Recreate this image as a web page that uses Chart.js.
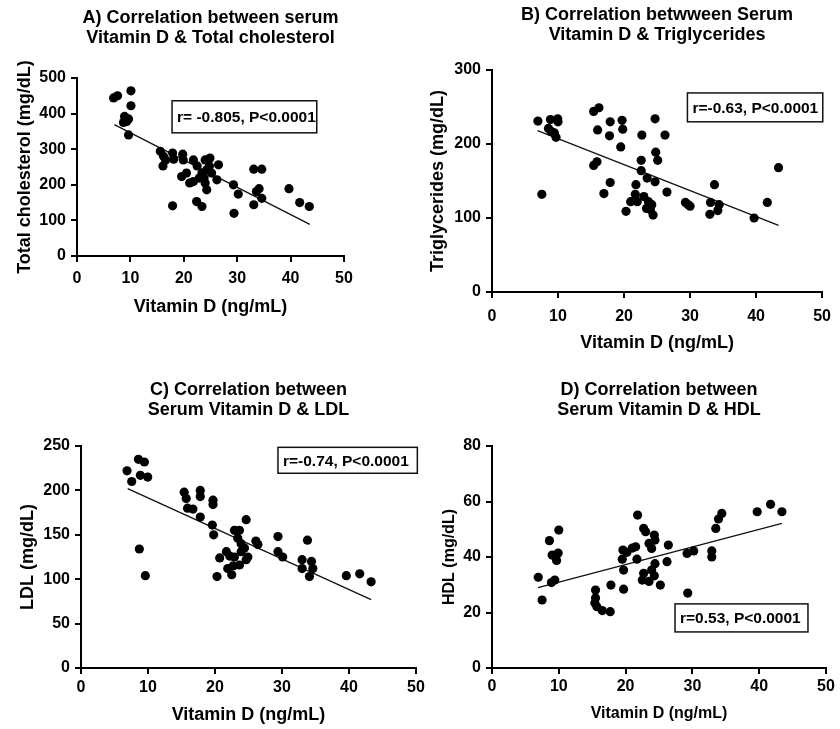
<!DOCTYPE html>
<html>
<head>
<meta charset="utf-8">
<script src="https://cdn.jsdelivr.net/npm/chart.js@4.4.1/dist/chart.umd.min.js"></script>
<style>
  body { margin: 0; background: #fff; }
  #wrap { position: relative; width: 840px; height: 729px; overflow: hidden; }
  canvas { position: absolute; }
</style>
</head>
<body>
<div id="wrap">
  <canvas id="cA" width="420" height="325" style="left:0px;top:0px;"></canvas>
  <canvas id="cB" width="420" height="365" style="left:420px;top:0px;"></canvas>
  <canvas id="cC" width="440" height="364" style="left:0px;top:365px;"></canvas>
  <canvas id="cD" width="420" height="364" style="left:420px;top:365px;"></canvas>
</div>
<script>
// A) total cholesterol
const cholVitD = [6.85, 7.6, 10.1, 10.1, 8.9, 9.3, 8.7, 9.65, 9.65,
    15.6, 16.2, 16.1, 16.6, 17.9, 18.1, 19.8, 19.9, 19.6, 20.5,
    21.8, 21.1, 21.8, 22.5, 23.4, 22.9, 23.8, 24, 24.9, 24.8,
    24.3, 25.2, 24, 24.3, 22.4, 23.4, 26.5, 26.2, 17.9, 29.3,
    30.2, 29.4, 33.1, 34.6, 34.1, 33.6, 34.6, 33.1, 39.7, 41.7, 43.5];
const cholValues = [444, 450, 464, 422, 392, 378, 375, 385, 340,
    294, 280, 253, 270, 289, 272, 286, 270, 223, 233,
    270, 205, 209, 253, 233, 219, 219, 270, 275, 253,
    242, 233, 205, 186, 153, 139, 256, 214, 141, 200,
    174, 120, 244, 244, 189, 181, 162, 144, 189, 150, 139];
const cholFitX = [7.0, 43.6];
const cholFitY = [369, 89];

// B) triglycerides
const tgVitD = [6.95, 7.55, 8.85, 9.95, 8.55, 8.95, 9.45, 9.7, 10.0,
    15.4, 16.2, 16.0, 15.4, 15.9, 17.9, 17.8, 19.7, 19.8, 19.5, 17.9, 16.95,
    22.7, 22.6, 22.6, 23.5, 24.7, 24.8, 25.1, 24.7, 26.2, 26.5,
    21.8, 21.7, 21.0, 22.0, 20.3, 23.0, 23.7, 24.2, 23.4, 24.0, 24.4,
    29.3, 30.0, 29.7, 33.1, 33.7, 33.0, 34.4, 34.2, 39.7, 41.7, 43.4];
const tgValues = [231, 132, 233, 234, 221, 217, 215, 209, 230,
    244, 249, 219, 171, 176, 230, 211, 232, 220, 196, 148, 133,
    212, 178, 164, 154, 234, 189, 178, 149, 212, 135,
    145, 132, 122, 122, 109, 129, 122, 118, 113, 111, 104,
    121, 116, 118, 121, 145, 105, 118, 110, 100, 121, 168];
const tgFitX = [6.9, 43.4];
const tgFitY = [218, 90];

// C) LDL
const ldlVitD = [6.87, 7.57, 8.57, 9.46, 8.86, 9.96, 8.71, 9.6,
    15.4, 15.7, 15.9, 16.7, 17.8, 17.8, 19.7, 19.7, 17.8, 19.6, 19.8,
    24.65, 22.9, 23.65, 23.4, 23.9, 26.1, 26.4, 24.4, 23.9,
    20.7, 21.7, 22.2, 22.9, 21.9, 22.7, 23.65, 24.65, 24.9, 20.3, 22.5,
    29.4, 29.4, 30.1, 33.8, 33.0, 34.4, 33.0, 34.6, 34.1, 39.6, 41.6, 43.3];
const ldlValues = [222, 210, 235, 232, 217, 215, 134, 104,
    198, 191, 180, 179, 200, 193, 189, 184, 170, 161, 150,
    167, 155, 155, 146, 140, 143, 139, 135, 131,
    124, 131, 126, 125, 112, 115, 116, 122, 125, 103, 105,
    148, 131, 125, 144, 122, 120, 112, 112, 103, 104, 106, 97];
const ldlFitX = [6.97, 43.3];
const ldlFitY = [202, 77];

// D) HDL
const hdlVitD = [6.92, 7.5, 8.6, 10.0, 9.0, 9.9, 9.67, 8.9, 9.4,
    15.5, 15.5, 15.4, 15.7, 16.5, 17.7, 17.8,
    19.7, 19.7, 19.5, 19.6, 20.2, 21.5, 21.0, 21.7, 21.8,
    22.7, 23.0, 24.3, 24.4, 23.5, 23.9, 26.4, 26.2, 24.4, 23.9, 22.7, 24.3, 22.5, 23.5, 25.2,
    29.2, 30.2, 29.3, 32.9, 32.9, 33.5, 33.9, 34.4, 39.7, 41.7, 43.4];
const hdlValues = [32.7, 24.5, 45.9, 49.7, 40.7, 41.4, 38.7, 30.8, 31.7,
    28.1, 25.2, 23.4, 22.1, 20.7, 20.3, 29.9,
    28.4, 35.3, 39.2, 42.5, 41.7, 43.7, 43.2, 39.2, 55.1,
    50.3, 49.1, 47.9, 46.1, 44.9, 43.1, 44.3, 38.3, 37.6, 35.3, 34.1, 33.2, 31.7, 31.2, 29.9,
    41.3, 42.2, 27.0, 42.2, 40, 50.3, 53.7, 55.7, 56.3, 59, 56.3];
const hdlFitX = [6.9, 43.4];
const hdlFitY = [29, 52.1];

const xTitle = 'Vitamin D (ng/mL)';
const FONT = "'Liberation Sans', Arial, Helvetica, sans-serif";

// boxed r / P text, placed in data units
const statBox = {
    id: 'statBox',
    afterDatasetsDraw(chart, args, o) {
        if (!o || !o.text) return;
        const ctx = chart.ctx;
        const xs = chart.scales.x, ys = chart.scales.y;
        const l = xs.getPixelForValue(o.x0), r = xs.getPixelForValue(o.x1);
        const t = ys.getPixelForValue(o.y0), b = ys.getPixelForValue(o.y1);
        ctx.save();
        ctx.fillStyle = '#fff';
        ctx.fillRect(l, t, r - l, b - t);
        ctx.beginPath();
        ctx.rect(l, t, r - l, b - t);
        ctx.clip();
        ctx.fillStyle = '#000';
        ctx.font = 'bold 15.5px ' + FONT;
        ctx.textBaseline = 'middle';
        ctx.fillText(o.text, l + 5, (t + b) / 2 + 1);
        ctx.restore();
        ctx.save();
        ctx.strokeStyle = '#111';
        ctx.lineWidth = 1.5;
        ctx.strokeRect(l, t, r - l, b - t);
        ctx.restore();
    }
};

function makeChart(id, p) {
    const pts = p.xs.map((x, i) => ({ x: x, y: p.ys[i] }));
    const fit = p.fitX.map((x, i) => ({ x: x, y: p.fitY[i] }));
    return new Chart(document.getElementById(id), {
        type: 'scatter',
        data: {
            datasets: [
                {
                    data: pts,
                    backgroundColor: '#000',
                    borderWidth: 0,
                    pointRadius: 4.6
                },
                {
                    data: fit,
                    showLine: true,
                    borderColor: '#111',
                    borderWidth: 1.3,
                    pointRadius: 0
                }
            ]
        },
        options: {
            responsive: false,
            animation: false,
            layout: { padding: { left: 0, right: p.padRight, top: 0, bottom: 0 } },
            scales: {
                x: {
                    type: 'linear', min: 0, max: 50,
                    ticks: { stepSize: 10, color: '#000', padding: p.xTickPad, font: { family: FONT, size: 16, weight: 'bold' } },
                    grid: { drawOnChartArea: false, drawTicks: true, tickLength: 6, tickWidth: 2, lineWidth: 2, color: '#000' },
                    border: { color: '#000', width: 2 },
                    title: { display: true, text: xTitle, color: '#000', font: { family: FONT, size: p.axisFont, weight: 'bold' }, padding: { top: 0, bottom: p.xTitlePad } },
                    afterFit(s) { s.height = p.xHeight; }
                },
                y: {
                    type: 'linear', min: 0, max: p.yMax,
                    ticks: { stepSize: p.yStep, color: '#000', padding: 5, font: { family: FONT, size: 16, weight: 'bold' } },
                    grid: { drawOnChartArea: false, drawTicks: true, tickLength: 6, tickWidth: 2, lineWidth: 2, color: '#000' },
                    border: { color: '#000', width: 2 },
                    title: { display: true, text: p.yTitle, color: '#000', font: { family: FONT, size: p.axisFont, weight: 'bold' }, padding: { top: p.yTitlePad, bottom: 0 } },
                    afterFit(s) { s.width = p.yWidth; }
                }
            },
            plugins: {
                legend: { display: false },
                tooltip: { enabled: false },
                title: {
                    display: true,
                    text: p.title,
                    fullSize: false,
                    color: '#000',
                    font: { family: FONT, size: 18, weight: 'bold', lineHeight: 1.1 },
                    padding: { top: p.titleTop, bottom: p.titleBottom }
                },
                statBox: p.box
            }
        },
        plugins: [statBox]
    });
}

makeChart('cA', {
    xs: cholVitD, ys: cholValues, fitX: cholFitX, fitY: cholFitY,
    yMax: 500, yStep: 100, yTitle: 'Total cholesterol (mg/dL)',
    title: ['A) Correlation between serum', 'Vitamin D & Total cholesterol'],
    titleTop: 8, titleBottom: 30.4, padRight: 76, yWidth: 77, xHeight: 69,
    xTickPad: 7, xTitlePad: 7, yTitlePad: 14, axisFont: 18,
    box: { text: 'r= -0.805, P<0.0001', x0: 17.8, x1: 44.9, y0: 436, y1: 346 }
});

makeChart('cB', {
    xs: tgVitD, ys: tgValues, fitX: tgFitX, fitY: tgFitY,
    yMax: 300, yStep: 100, yTitle: 'Triglycerides (mg/dL)',
    title: ['B) Correlation betwween Serum', 'Vitamin D & Triglycerides'],
    titleTop: 5, titleBottom: 25.4, padRight: 14, yWidth: 72, xHeight: 73,
    xTickPad: 9, xTitlePad: 11, yTitlePad: 7, axisFont: 18,
    box: { text: 'r=-0.63, P<0.0001', x0: 29.6, x1: 50.1, y0: 269, y1: 230 }
});

makeChart('cC', {
    xs: ldlVitD, ys: ldlValues, fitX: ldlFitX, fitY: ldlFitY,
    yMax: 250, yStep: 50, yTitle: 'LDL (mg/dL)',
    title: ['C) Correlation between', 'Serum Vitamin D & LDL'],
    titleTop: 15, titleBottom: 26.4, padRight: 24, yWidth: 81, xHeight: 61,
    xTickPad: 4, xTitlePad: 3, yTitlePad: 17, axisFont: 18,
    box: { text: 'r=-0.74, P<0.0001', x0: 29.4, x1: 50.2, y0: 248.5, y1: 219.3 }
});

makeChart('cD', {
    xs: hdlVitD, ys: hdlValues, fitX: hdlFitX, fitY: hdlFitY,
    yMax: 80, yStep: 20, yTitle: 'HDL (mg/dL)',
    title: ['D) Correlation between', 'Serum Vitamin D & HDL'],
    titleTop: 15, titleBottom: 26.4, padRight: 14, yWidth: 72, xHeight: 61,
    xTickPad: 3, xTitlePad: 6, yTitlePad: 20, axisFont: 16,
    box: { text: 'r=0.53, P<0.0001', x0: 27.4, x1: 47.3, y0: 23.1, y1: 13.0 }
});
</script>
</body>
</html>
